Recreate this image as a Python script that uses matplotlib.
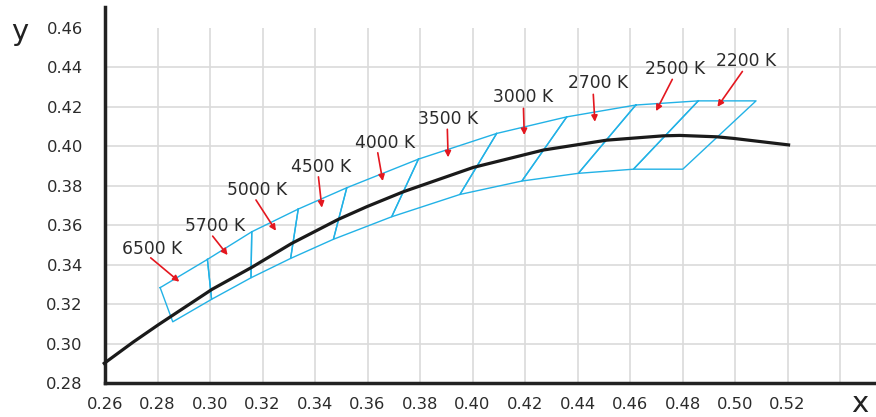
import matplotlib.pyplot as plt
import numpy as np

# 普朗克轨迹
locus_x = [0.2592, 0.2708, 0.2803, 0.3007, 0.3159, 0.3311, 0.3489, 0.3597, 0.3737,
           0.4003, 0.4270, 0.4511, 0.4727, 0.4790, 0.4930, 0.4994, 0.5210]
locus_y = [0.2895, 0.3008, 0.3095, 0.3274, 0.3386, 0.3507, 0.3629, 0.3693, 0.3769,
           0.3892, 0.3980, 0.4030, 0.4052, 0.4054, 0.4047, 0.4039, 0.4005]

# 色温四边形的上下边界顶点
upper_x = [0.2810, 0.2990, 0.3159, 0.3336, 0.3521, 0.3794, 0.4092, 0.4359, 0.4622, 0.4860, 0.5080]
upper_y = [0.3283, 0.3426, 0.3566, 0.3681, 0.3789, 0.3934, 0.4064, 0.4148, 0.4208, 0.4229, 0.4229]
lower_x = [0.2858, 0.3006, 0.3156, 0.3307, 0.3470, 0.3692, 0.3952, 0.4188, 0.4403, 0.4613, 0.4801]
lower_y = [0.3110, 0.3224, 0.3333, 0.3431, 0.3528, 0.3642, 0.3755, 0.3823, 0.3862, 0.3883, 0.3883]

# 标签与箭头
cct_labels = ['6500 K', '5700 K', '5000 K', '4500 K', '4000 K',
              '3500 K', '3000 K', '2700 K', '2500 K', '2200 K']
label_x = [0.2779, 0.3019, 0.3179, 0.3422, 0.3667, 0.3908, 0.4194, 0.4479, 0.4771, 0.5042]
label_y = [0.3478, 0.3595, 0.3777, 0.3895, 0.4017, 0.4135, 0.4247, 0.4317, 0.4388, 0.4432]
tail_x = [0.2774, 0.3010, 0.3175, 0.3413, 0.3639, 0.3904, 0.4194, 0.4460, 0.4761, 0.5028]
tail_y = [0.3434, 0.3544, 0.3727, 0.3844, 0.3966, 0.4085, 0.4191, 0.4262, 0.4338, 0.4378]
head_x = [0.2883, 0.3067, 0.3251, 0.3426, 0.3658, 0.3907, 0.4197, 0.4466, 0.4699, 0.4933]
head_y = [0.3313, 0.3448, 0.3571, 0.3688, 0.3823, 0.3943, 0.4056, 0.4123, 0.4177, 0.4199]

x_ticks = [0.26, 0.28, 0.30, 0.32, 0.34, 0.36, 0.38, 0.40, 0.42, 0.44, 0.46, 0.48, 0.50, 0.52]
y_ticks = [0.28, 0.30, 0.32, 0.34, 0.36, 0.38, 0.40, 0.42, 0.44, 0.46]

CYAN = '#22b2e6'
RED = '#e4171f'
GRID = '#dadada'
TXT = '#2b2b2b'

plt.rcParams['font.family'] = ['DejaVu Sans']

fig = plt.figure(figsize=(8.76, 4.17), dpi=100)
ax = fig.add_axes([0.1199, 0.0815, 0.8801, 0.9015])
ax.set_xlim(0.26, 0.5537)
ax.set_ylim(0.28, 0.4704)

# 网格
ax.vlines(x_ticks[1:] + [0.54], 0.28, 0.46, color=GRID, lw=1.2, zorder=0)
ax.hlines(y_ticks[1:-1], 0.26, 0.5537, color=GRID, lw=1.2, zorder=0)

# 四边形
for i in range(len(upper_x) - 1):
    qx = [upper_x[i], upper_x[i + 1], lower_x[i + 1], lower_x[i], upper_x[i]]
    qy = [upper_y[i], upper_y[i + 1], lower_y[i + 1], lower_y[i], upper_y[i]]
    ax.plot(qx, qy, color=CYAN, lw=1.0, zorder=2)

# 普朗克轨迹
ax.plot(locus_x, locus_y, color='#1a1a1a', lw=2.3, zorder=3, clip_on=False,
        solid_capstyle='butt', solid_joinstyle='round')

# 标签和红色箭头
for i, lab in enumerate(cct_labels):
    ax.text(label_x[i], label_y[i], lab, ha='center', va='center',
            fontsize=12.3, color=TXT, zorder=4)
    ax.annotate('', xy=(head_x[i], head_y[i]), xytext=(tail_x[i], tail_y[i]),
                arrowprops=dict(arrowstyle='-|>', color=RED, lw=1.2,
                                mutation_scale=9, shrinkA=0, shrinkB=0),
                zorder=4)

# 坐标轴
for s in ['top', 'right']:
    ax.spines[s].set_visible(False)
for s in ['left', 'bottom']:
    ax.spines[s].set_linewidth(2.5)
    ax.spines[s].set_color('#222222')
ax.set_xticks(x_ticks)
ax.set_xticklabels(['%.2f' % v for v in x_ticks])
ax.set_yticks(y_ticks)
ax.set_yticklabels(['%.2f' % v for v in y_ticks])
ax.tick_params(axis='both', length=0, labelsize=11.8, labelcolor=TXT)
ax.tick_params(axis='y', pad=16)
ax.tick_params(axis='x', pad=10)

fig.text(0.0228, 0.923, 'y', fontsize=21, ha='center', va='center', color='#222222')
fig.text(0.9817, 0.03, 'x', fontsize=21, ha='center', va='center', color='#222222')

fig.savefig('out.png', dpi=100)
